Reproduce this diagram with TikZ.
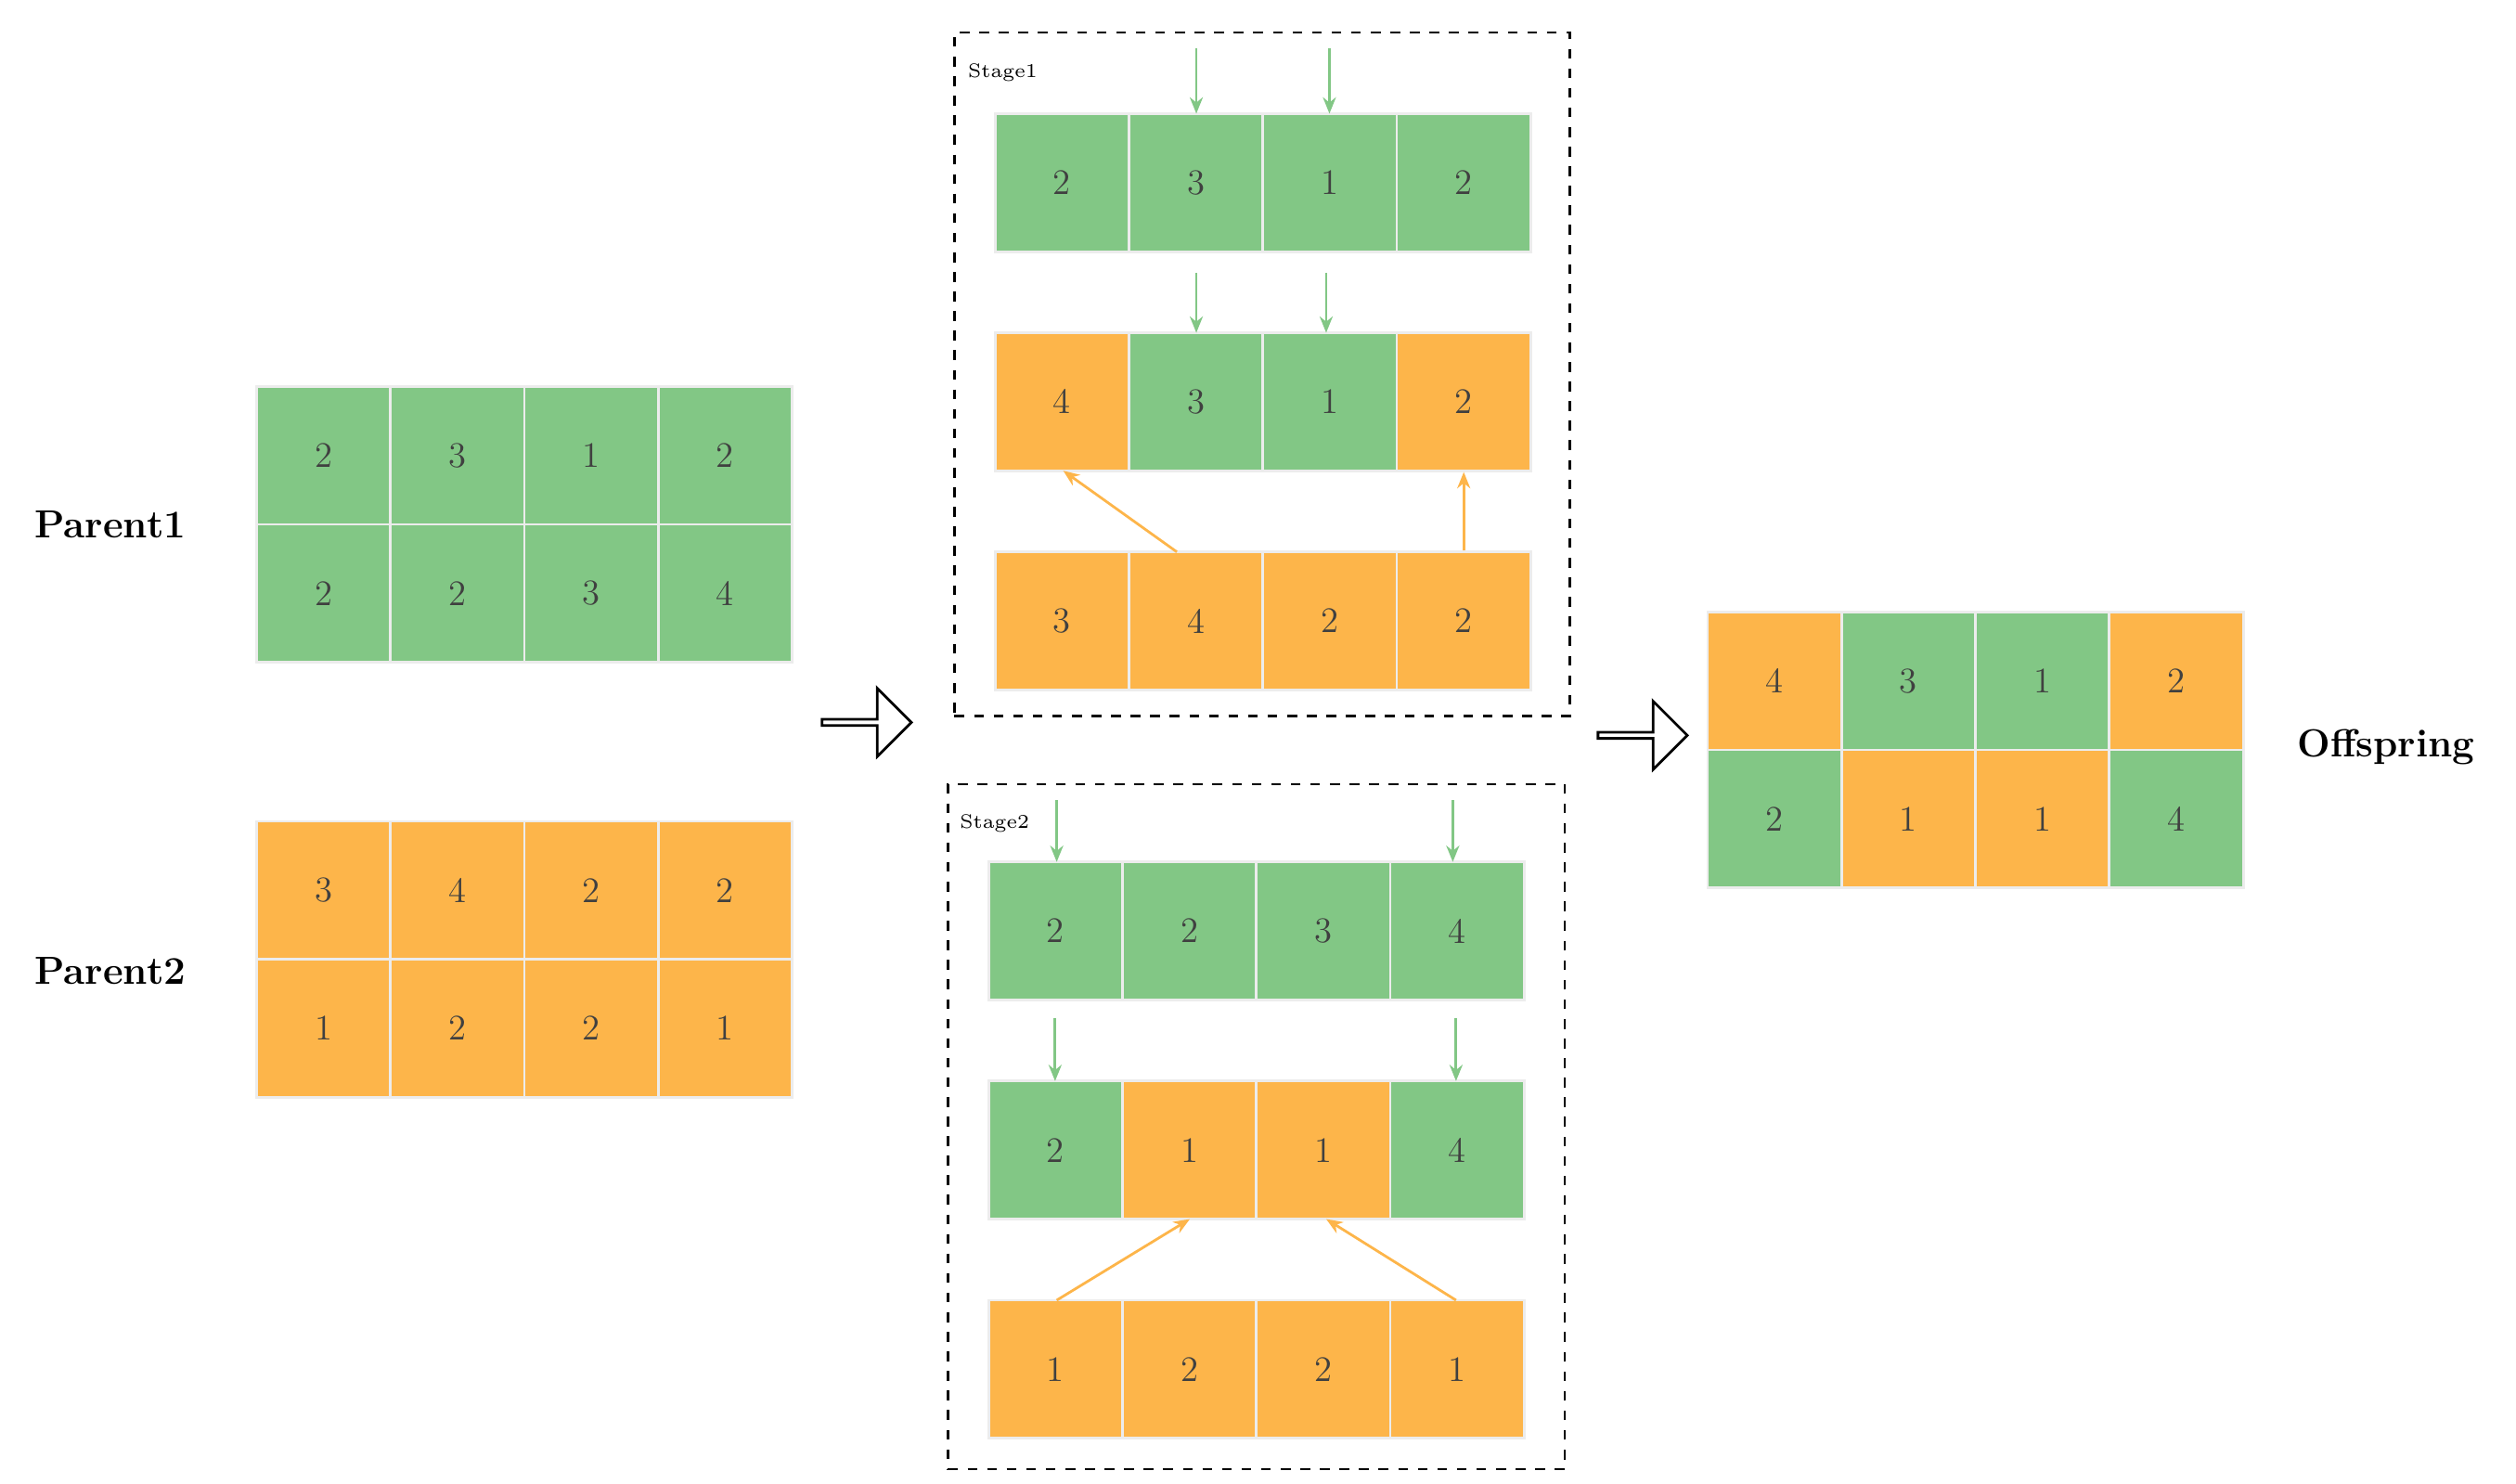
\documentclass[tikz,border=0pt]{standalone}
\usetikzlibrary{shapes.arrows,arrows.meta}
\definecolor{gr}{HTML}{82C785}
\definecolor{og}{HTML}{FDB54A}
\definecolor{txt}{HTML}{404040}
\begin{document}
\begin{tikzpicture}[x=0.01749cm,y=-0.01749cm,
  cell/.style={draw=white!85!gray,line width=0.8pt,minimum width=82.5*0.01749cm,minimum height=85*0.01749cm,inner sep=0pt,font=\fontsize{11}{11}\selectfont,text=txt},
  G/.style={cell,fill=gr},O/.style={cell,fill=og},
  lab/.style={font=\bfseries\fontsize{12}{12}\selectfont},
  ga/.style={draw=gr,line width=0.8pt,-{Stealth[length=5pt,width=4pt]}},
  oa/.style={draw=og,line width=0.8pt,-{Stealth[length=5pt,width=4pt]}},
  box/.style={draw,dashed,line width=0.7pt},
  big/.style={single arrow,draw,fill=white,line width=0.8pt,minimum height=55*0.01749cm,minimum width=42*0.01749cm,single arrow head extend=4pt,inner sep=0pt}]
\useasboundingbox (0,0) rectangle (1550,914);
\newcommand{\myrow}[3]{%
  \foreach \s/\v [count=\i] in {#3} {\node[\s] (#1\i) at ({#2+41.25+82.5*(\i-1)},0) {\v};}}
\begin{scope}[shift={(0,280.5)}]\myrow{pa}{158}{G/2,G/3,G/1,G/2}\end{scope}
\begin{scope}[shift={(0,365.5)}]\myrow{pb}{158}{G/2,G/2,G/3,G/4}\end{scope}
\begin{scope}[shift={(0,548.5)}]\myrow{qa}{158}{O/3,O/4,O/2,O/2}\end{scope}
\begin{scope}[shift={(0,633.5)}]\myrow{qb}{158}{O/1,O/2,O/2,O/1}\end{scope}
\node[lab] (p1) at (68,323) {Parent1};
\node[lab] (p2) at (68,598) {Parent2};
\node[big] (ar1) at (533,445) {};
% stage1
\node[box,minimum width=379*0.01749cm,minimum height=421*0.01749cm] (s1) at (777.5,230.5) {};
\node[font=\fontsize{6}{6}\selectfont,anchor=west,inner sep=0pt] (s1l) at (596,45) {Stage1};
\begin{scope}[shift={(0,112.5)}]\myrow{a}{613}{G/2,G/3,G/1,G/2}\end{scope}
\begin{scope}[shift={(0,247.5)}]\myrow{b}{613}{O/4,G/3,G/1,O/2}\end{scope}
\begin{scope}[shift={(0,382.5)}]\myrow{c}{613}{O/3,O/4,O/2,O/2}\end{scope}
\coordinate (t1) at (737,30); \coordinate (t2) at (819,30);
\coordinate (t3) at (737,168); \coordinate (t4) at (817,168);
\coordinate (h1) at (737,70); \coordinate (h2) at (819,70);
\coordinate (h3) at (737,205); \coordinate (h4) at (817,205);
\draw[ga] (t1) -- (h1); \draw[ga] (t2) -- (h2);
\draw[ga] (t3) -- (h3); \draw[ga] (t4) -- (h4);
\coordinate (c0) at (725,340); \coordinate (b0) at (655,290);
\draw[oa] (c0) -- (b0);
\draw[oa] (c4.north) -- (b4.south);
% stage2
\node[box,minimum width=380*0.01749cm,minimum height=422*0.01749cm] (s2) at (774,694) {};
\node[font=\fontsize{6}{6}\selectfont,anchor=west,inner sep=0pt] (s2l) at (591,507) {Stage2};
\begin{scope}[shift={(0,573.5)}]\myrow{d}{609}{G/2,G/2,G/3,G/4}\end{scope}
\begin{scope}[shift={(0,708.5)}]\myrow{e}{609}{G/2,O/1,O/1,G/4}\end{scope}
\begin{scope}[shift={(0,843.5)}]\myrow{f}{609}{O/1,O/2,O/2,O/1}\end{scope}
\coordinate (u1) at (651,493); \coordinate (u2) at (895,493);
\coordinate (u3) at (650,627); \coordinate (u4) at (897,627);
\coordinate (v1) at (651,531); \coordinate (v2) at (895,531);
\coordinate (v3) at (650,666); \coordinate (v4) at (897,666);
\draw[ga] (u1) -- (v1); \draw[ga] (u2) -- (v2);
\draw[ga] (u3) -- (v3); \draw[ga] (u4) -- (v4);
\coordinate (f0) at (651,801); \coordinate (e0) at (733,751);
\coordinate (f9) at (897,801); \coordinate (e9) at (817,751);
\draw[oa] (f0) -- (e0);
\draw[oa] (f9) -- (e9);
\node[big] (ar2) at (1011,453) {};
% offspring
\begin{scope}[shift={(0,419.5)}]\myrow{o}{1052}{O/4,G/3,G/1,O/2}\end{scope}
\begin{scope}[shift={(0,504.5)}]\myrow{r}{1052}{G/2,O/1,O/1,G/4}\end{scope}
\node[lab] (off) at (1470,460) {Offspring};
\end{tikzpicture}
\end{document}
